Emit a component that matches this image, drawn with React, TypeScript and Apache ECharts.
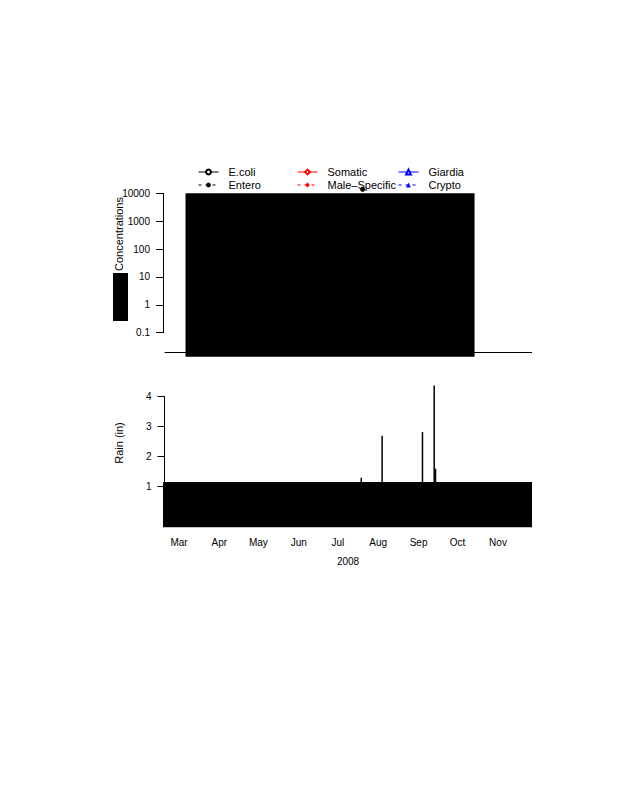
import React, { useEffect, useRef } from 'react';
import * as echarts from 'echarts';

// ---- data ----
const xAxisRange = ['2008-02-17T17:00:00Z', '2008-11-27T03:00:00Z'];
const monthTickDates = ['2008-03-01', '2008-04-01', '2008-05-01', '2008-06-01', '2008-07-01', '2008-08-01', '2008-09-01', '2008-10-01', '2008-11-01'];
const monthNames = ['Jan', 'Feb', 'Mar', 'Apr', 'May', 'Jun', 'Jul', 'Aug', 'Sep', 'Oct', 'Nov', 'Dec'];
const yearLabel = '2008';

const concAxisRange = [0.1, 10000];
const rainAxisRange = [1, 4];

const enteroDates = ['2008-07-20'];
const enteroValues = [14000];
const ecoliDates: string[] = [];
const ecoliValues: number[] = [];

const concBlockDates = ['2008-03-06', '2008-10-14'];
const concBlockValues = [0.0137, 10000];
const concBaseline = 0.0203;

const rainDates = ['2008-07-19', '2008-08-04', '2008-09-04', '2008-09-13', '2008-09-14'];
const rainInches = [1.3, 2.7, 2.82, 4.37, 1.6];
const rainBlockTop = 1.157;

const legendCol1 = ['E.coli', 'Entero'];
const legendCol2 = ['Somatic', 'Male–Specific'];
const legendCol3 = ['Giardia', 'Crypto'];

const FONT = "'Liberation Sans', Arial, Helvetica, sans-serif";

export default function App() {
  const ref = useRef<HTMLDivElement>(null);
  useEffect(() => {
    if (!ref.current) return;
    const chart = echarts.init(ref.current, undefined, { renderer: 'svg' });
    const xMin = Date.parse(xAxisRange[0]);
    const xMax = Date.parse(xAxisRange[1]);
    const monthTicks = monthTickDates.map((d) => Date.parse(d));
    const rainMin = -0.353;

    const legendBase = {
      orient: 'vertical',
      top: 166.5,
      itemWidth: 20,
      itemHeight: 6,
      itemGap: 2,
      padding: 0,
      selectedMode: false,
      lineStyle: { width: 1 },
      textStyle: { fontFamily: FONT, fontSize: 11, color: '#000', padding: [0, 0, 0, 5] },
    };

    const option: any = {
      animation: false,
      backgroundColor: '#fff',
      textStyle: { fontFamily: FONT },
      legend: [
        { ...legendBase, left: 198, data: legendCol1 },
        { ...legendBase, left: 297, data: legendCol2 },
        { ...legendBase, left: 398, data: legendCol3 },
      ],
      grid: [
        { left: 163, top: 193.3, width: 369, height: 139.4 },
        { left: 163, top: 165.4, width: 369, height: 195.2 },
        { left: 164.5, top: 396.7, width: 367.5, height: 90 },
        { left: 163, top: 384.7, width: 369, height: 142.6 },
      ],
      xAxis: [
        { gridIndex: 0, type: 'value', show: false, min: 0, max: 1 },
        { gridIndex: 1, type: 'value', show: false, min: xMin, max: xMax, scale: true },
        { gridIndex: 2, type: 'value', show: false, min: 0, max: 1 },
        {
          gridIndex: 3,
          type: 'value',
          min: xMin,
          max: xMax,
          scale: true,
          axisLine: { show: false },
          splitLine: { show: false },
          axisTick: { show: true, length: 4, customValues: monthTicks, lineStyle: { color: '#000', width: 1 } },
          axisLabel: {
            show: true,
            customValues: monthTicks,
            margin: 10,
            fontSize: 10,
            color: '#000',
            fontFamily: FONT,
            formatter: (v: number) => monthNames[new Date(v).getUTCMonth()],
          },
        },
      ],
      yAxis: [
        {
          gridIndex: 0,
          type: 'log',
          logBase: 10,
          min: concAxisRange[0],
          max: concAxisRange[1],
          axisLine: { show: true, lineStyle: { color: '#000', width: 1 } },
          axisTick: { show: true, length: 7, lineStyle: { color: '#000', width: 1 } },
          splitLine: { show: false },
          axisLabel: {
            margin: 13,
            fontSize: 10,
            color: '#000',
            fontFamily: FONT,
            formatter: (v: number) => {
              const e = Math.round(Math.log10(v));
              return e < 0 ? Math.pow(10, e).toFixed(-e) : String(Math.pow(10, e));
            },
          },
        },
        { gridIndex: 1, type: 'log', logBase: 10, min: 0.01, max: 100000, show: false },
        {
          gridIndex: 2,
          type: 'value',
          min: rainAxisRange[0],
          max: rainAxisRange[1],
          interval: 1,
          axisLine: { show: true, lineStyle: { color: '#000', width: 1 } },
          axisTick: { show: true, length: 7, lineStyle: { color: '#000', width: 1 } },
          splitLine: { show: false },
          axisLabel: { margin: 13, fontSize: 10, color: '#000', fontFamily: FONT },
        },
        { gridIndex: 3, type: 'value', min: rainMin, max: 4.4, show: false },
      ],
      series: [
        {
          name: 'E.coli',
          type: 'line',
          xAxisIndex: 1,
          yAxisIndex: 1,
          data: ecoliDates.map((d, i) => [Date.parse(d), ecoliValues[i]]),
          symbol: 'emptyCircle',
          symbolSize: 5,
          itemStyle: { color: '#000' },
          lineStyle: { color: '#000', width: 1, type: 'solid' },
        },
        {
          name: 'Entero',
          type: 'line',
          xAxisIndex: 1,
          yAxisIndex: 1,
          clip: false,
          z: 5,
          data: enteroDates.map((d, i) => [Date.parse(d), enteroValues[i]]),
          symbol: 'circle',
          symbolSize: 5,
          showSymbol: true,
          itemStyle: { color: '#000' },
          lineStyle: { color: '#000', width: 1, type: [3, 4] },
          markArea: {
            silent: true,
            itemStyle: { color: '#000', opacity: 1 },
            data: [[
              { xAxis: Date.parse(concBlockDates[0]), yAxis: concBlockValues[0] },
              { xAxis: Date.parse(concBlockDates[1]), yAxis: concBlockValues[1] },
            ]],
          },
          markLine: {
            silent: true,
            symbol: 'none',
            label: { show: false },
            lineStyle: { color: '#000', width: 1, type: 'solid' },
            data: [[
              { coord: [xMin + 0.0045 * (xMax - xMin), concBaseline] },
              { coord: [xMax, concBaseline] },
            ]],
          },
        },
        {
          name: 'Somatic',
          type: 'line',
          xAxisIndex: 1,
          yAxisIndex: 1,
          data: [],
          symbol: 'emptyDiamond',
          symbolSize: 5,
          itemStyle: { color: '#ff0000' },
          lineStyle: { color: '#ff0000', width: 1, type: 'solid' },
        },
        {
          name: 'Male–Specific',
          type: 'line',
          xAxisIndex: 1,
          yAxisIndex: 1,
          data: [],
          symbol: 'diamond',
          symbolSize: 5,
          itemStyle: { color: '#ff0000' },
          lineStyle: { color: '#ff0000', width: 1, type: [3, 4] },
        },
        {
          name: 'Giardia',
          type: 'line',
          xAxisIndex: 1,
          yAxisIndex: 1,
          data: [],
          symbol: 'emptyTriangle',
          symbolSize: 5,
          itemStyle: { color: '#0000ff' },
          lineStyle: { color: '#0000ff', width: 1, type: 'solid' },
        },
        {
          name: 'Crypto',
          type: 'line',
          xAxisIndex: 1,
          yAxisIndex: 1,
          data: [],
          symbol: 'triangle',
          symbolSize: 5,
          itemStyle: { color: '#0000ff' },
          lineStyle: { color: '#0000ff', width: 1, type: [3, 4] },
        },
        {
          name: 'Rain',
          type: 'bar',
          xAxisIndex: 3,
          yAxisIndex: 3,
          barWidth: 1.5,
          data: rainDates.map((d, i) => [Date.parse(d), rainInches[i]]),
          itemStyle: { color: '#000' },
          markArea: {
            silent: true,
            itemStyle: { color: '#000', opacity: 1 },
            data: [[
              { xAxis: xMin, yAxis: rainMin },
              { xAxis: xMax, yAxis: rainBlockTop },
            ]],
          },
        },
      ],
      graphic: [
        {
          type: 'text',
          x: 119,
          y: 234,
          rotation: Math.PI / 2,
          style: { text: 'Concentrations', font: `11px ${FONT}`, fill: '#000', align: 'center', verticalAlign: 'middle' },
        },
        {
          type: 'rect',
          shape: { x: 113, y: 273, width: 15, height: 48 },
          style: { fill: '#000' },
        },
        {
          type: 'text',
          x: 119,
          y: 443,
          rotation: Math.PI / 2,
          style: { text: 'Rain (in)', font: `11px ${FONT}`, fill: '#000', align: 'center', verticalAlign: 'middle' },
        },
        {
          type: 'text',
          x: 348,
          y: 561,
          style: { text: yearLabel, font: `10px ${FONT}`, fill: '#000', align: 'center', verticalAlign: 'middle' },
        },
      ],
    };
    chart.setOption(option);
    return () => chart.dispose();
  }, []);
  return (
    <div
      ref={ref}
      style={{ position: 'absolute', left: 0, top: 0, width: 618, height: 800, background: '#fff' }}
    />
  );
}
